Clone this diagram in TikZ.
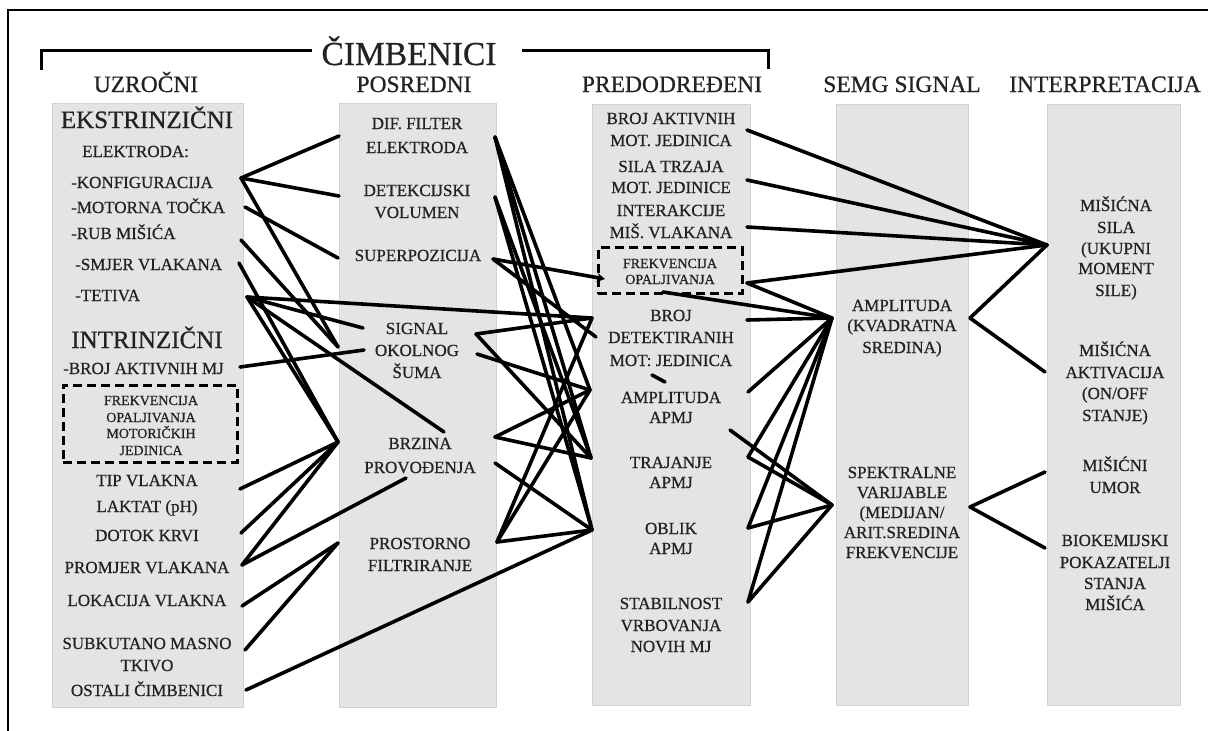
\documentclass[tikz,border=0pt]{standalone}
\usepackage{fontspec}
\setmainfont{Liberation Serif}
\newfontfamily\heavyserif{Liberation Serif}[FakeBold=0.7]
\usetikzlibrary{arrows.meta}
\definecolor{boxgray}{RGB}{226,229,226}
\definecolor{boxedge}{RGB}{208,211,208}
\definecolor{txt}{RGB}{34,34,34}
\newcommand\myftitle{\heavyserif\fontsize{33.5}{35}\selectfont}
\newcommand\myfhead{\heavyserif\fontsize{23.5}{26}\selectfont}
\newcommand\myfbig{\heavyserif\fontsize{25}{28}\selectfont}
\newcommand\myftxt{\heavyserif\fontsize{17}{20}\selectfont}
\newcommand\myfsmall{\heavyserif\fontsize{14}{16}\selectfont}
\begin{document}
\begin{tikzpicture}[x=1pt,y=-1pt,
  colbox/.style={fill=boxgray,draw=boxedge,line width=0.8pt,inner sep=0pt},
  head/.style={font=\myfhead,text=txt,anchor=base,inner sep=0pt},
  big/.style={font=\myfbig,text=txt,anchor=base,inner sep=0pt},
  tx/.style={font=\myftxt,text=txt,anchor=base,inner sep=0pt},
  txw/.style={font=\myftxt,text=txt,anchor=base west,inner sep=0pt},
  sm/.style={font=\myfsmall,text=txt,anchor=base,inner sep=0pt},
  dbox/.style={draw=black,line width=3pt,dash pattern=on 9pt off 5pt,inner sep=0pt},
  conn/.style={draw=black,line width=3.6pt,line cap=round},
  frame/.style={draw=black,line width=2pt},
  brk/.style={draw=black,line width=3pt}]
\useasboundingbox (0,0) rectangle (1208,731);
\fill[white] (0,0) rectangle (1208,731);
% frame
\draw[frame] (8,731) -- (8,10) -- (1208,10);
% title bracket
\node[font=\myftitle,text=txt,anchor=base,inner sep=0pt] (title) at (409,65) {ČIMBENICI};
\draw[brk] (41,70) -- (41,50) -- (312,50);
\draw[brk] (522,50) -- (768,50) -- (768,69);
% headers
\node[head] (h1) at (146,92) {UZROČNI};
\node[head] (h2) at (414,92) {POSREDNI};
\node[head] (h3) at (672,92) {PREDODREĐENI};
\node[head] (h4) at (902,92) {SEMG SIGNAL};
\node[head] (h5) at (1105,92) {INTERPRETACIJA};
% column boxes
\node[colbox,minimum width=191pt,minimum height=604pt] (b1) at (147.5,405) {};
\node[colbox,minimum width=157pt,minimum height=604pt] (b2) at (417.5,405) {};
\node[colbox,minimum width=158pt,minimum height=601pt] (b3) at (671,404.5) {};
\node[colbox,minimum width=132pt,minimum height=601pt] (b4) at (902,404.5) {};
\node[colbox,minimum width=133pt,minimum height=601pt] (b5) at (1113.5,404.5) {};
% dashed boxes
\node[dbox,fill=boxgray,minimum width=174pt,minimum height=77pt] (fb1) at (150,423.5) {};
\node[dbox,fill=boxgray,minimum width=144pt,minimum height=46pt] (fb3) at (670,270.5) {};
% column 1 texts
\node[big] (u1) at (147,128) {EKSTRINZIČNI};
\node[txw] (u2) at (82,157) {ELEKTRODA:};
\node[txw] (u3) at (71,188) {-KONFIGURACIJA};
\node[txw] (u4) at (71,213) {-MOTORNA TOČKA};
\node[txw] (u5) at (71,239) {-RUB MIŠIĆA};
\node[txw] (u6) at (75,270) {-SMJER VLAKANA};
\node[txw] (u7) at (75,301) {-TETIVA};
\node[big] (u8) at (147,348) {INTRINZIČNI};
\node[txw] (u9) at (63,374) {-BROJ AKTIVNIH MJ};
\node[sm] (u10) at (151,405) {FREKVENCIJA};
\node[sm] (u11) at (151,422) {OPALJIVANJA};
\node[sm] (u12) at (151,438) {MOTORIČKIH};
\node[sm] (u13) at (151,455) {JEDINICA};
\node[tx] (u14) at (147,486) {TIP VLAKNA};
\node[tx] (u15) at (147,512) {LAKTAT (pH)};
\node[tx] (u16) at (147,541) {DOTOK KRVI};
\node[tx] (u17) at (147,573) {PROMJER VLAKANA};
\node[tx] (u18) at (147,606) {LOKACIJA VLAKNA};
\node[tx] (u19) at (147,649) {SUBKUTANO MASNO};
\node[tx] (u20) at (147,671) {TKIVO};
\node[tx] (u21) at (147,696) {OSTALI ČIMBENICI};
% column 2 texts
\node[tx] (p1) at (417,129) {DIF. FILTER};
\node[tx] (p2) at (417,153) {ELEKTRODA};
\node[tx] (p3) at (417,196) {DETEKCIJSKI};
\node[tx] (p4) at (417,218) {VOLUMEN};
\node[tx] (p5) at (418,261) {SUPERPOZICIJA};
\node[tx] (p6) at (417,334) {SIGNAL};
\node[tx] (p7) at (417,356) {OKOLNOG};
\node[tx] (p8) at (417,378) {ŠUMA};
\node[tx] (p9) at (420,449) {BRZINA};
\node[tx] (p10) at (420,473) {PROVOĐENJA};
\node[tx] (p11) at (420,549) {PROSTORNO};
\node[tx] (p12) at (420,571) {FILTRIRANJE};
% column 3 texts
\node[tx] (q1) at (671,124) {BROJ AKTIVNIH};
\node[tx] (q2) at (671,146) {MOT. JEDINICA};
\node[tx] (q3) at (671,172) {SILA TRZAJA};
\node[tx] (q4) at (671,193) {MOT. JEDINICE};
\node[tx] (q5) at (671,216) {INTERAKCIJE};
\node[tx] (q6) at (671,238) {MIŠ. VLAKANA};
\node[sm] (q7) at (670,268) {FREKVENCIJA};
\node[sm] (q8) at (670,284) {OPALJIVANJA};
\node[tx] (q9) at (671,321) {BROJ};
\node[tx] (q10) at (671,343) {DETEKTIRANIH};
\node[tx] (q11) at (671,366) {MOT: JEDINICA};
\node[tx] (q12) at (671,403) {AMPLITUDA};
\node[tx] (q13) at (671,423) {APMJ};
\node[tx] (q14) at (671,468) {TRAJANJE};
\node[tx] (q15) at (671,488) {APMJ};
\node[tx] (q16) at (671,534) {OBLIK};
\node[tx] (q17) at (671,554) {APMJ};
\node[tx] (q18) at (671,609) {STABILNOST};
\node[tx] (q19) at (671,631) {VRBOVANJA};
\node[tx] (q20) at (671,652) {NOVIH MJ};
% column 4 texts
\node[tx] (s1) at (902,311) {AMPLITUDA};
\node[tx] (s2) at (902,331) {(KVADRATNA};
\node[tx] (s3) at (902,353) {SREDINA)};
\node[tx] (s4) at (902,478) {SPEKTRALNE};
\node[tx] (s5) at (902,498) {VARIJABLE};
\node[tx] (s6) at (902,518) {(MEDIJAN/};
\node[tx] (s7) at (902,538) {ARIT.SREDINA};
\node[tx] (s8) at (902,558) {FREKVENCIJE};
% column 5 texts
\node[tx] (i1) at (1116,211) {MIŠIĆNA};
\node[tx] (i2) at (1116,233) {SILA};
\node[tx] (i3) at (1116,254) {(UKUPNI};
\node[tx] (i4) at (1116,274) {MOMENT};
\node[tx] (i5) at (1116,296) {SILE)};
\node[tx] (i6) at (1115,356) {MIŠIĆNA};
\node[tx] (i7) at (1115,378) {AKTIVACIJA};
\node[tx] (i8) at (1115,399) {(ON/OFF};
\node[tx] (i9) at (1115,421) {STANJE)};
\node[tx] (i10) at (1115,471) {MIŠIĆNI};
\node[tx] (i11) at (1115,493) {UMOR};
\node[tx] (i12) at (1115,546) {BIOKEMIJSKI};
\node[tx] (i13) at (1115,568) {POKAZATELJI};
\node[tx] (i14) at (1115,589) {STANJA};
\node[tx] (i15) at (1115,610) {MIŠIĆA};
% connection points
\coordinate (k) at (241,178);
\coordinate (mt) at (245,207);
\coordinate (rub) at (241,240);
\coordinate (smj) at (239,263);
\coordinate (tet) at (247,297);
\coordinate (bmj) at (240,367);
\coordinate (tip) at (240,489);
\coordinate (dot) at (241,533);
\coordinate (prm) at (242,565);
\coordinate (lok) at (242,606);
\coordinate (sub) at (245,650);
\coordinate (ost) at (246,690);
\coordinate (difL) at (339,136);
\coordinate (detL) at (339,196);
\coordinate (supL) at (338,258);
\coordinate (sigL) at (338,347);
\coordinate (sigT) at (363,328);
\coordinate (okoL) at (364,350);
\coordinate (brzT) at (444,432);
\coordinate (brzL) at (338,442);
\coordinate (provB) at (406,478);
\coordinate (prosL) at (338,543);
\coordinate (difR) at (495,137);
\coordinate (detR) at (495,197);
\coordinate (supR) at (493,259);
\coordinate (sigR) at (476,334);
\coordinate (okoR) at (477,354);
\coordinate (brzR) at (495,437);
\coordinate (provR) at (495,463);
\coordinate (prosR) at (497,542);
\coordinate (frkA) at (605,279);
\coordinate (brojL) at (592,318);
\coordinate (detkL) at (596,337);
\coordinate (r1) at (590,390);
\coordinate (r2) at (591,458);
\coordinate (r3) at (592,530);
\coordinate (bam) at (747,130);
\coordinate (stz) at (747,180);
\coordinate (int) at (747,227);
\coordinate (fr3) at (747,283);
\coordinate (fr3b) at (663,292);
\coordinate (bdet) at (747,320);
\coordinate (aapR) at (748,392);
\coordinate (aapB) at (730,430);
\coordinate (traR) at (748,457);
\coordinate (oblR) at (748,528);
\coordinate (stbR) at (748,602);
\coordinate (ampL) at (832,318);
\coordinate (ampR) at (970,318);
\coordinate (spkL) at (832,505);
\coordinate (spkR) at (970,507);
\coordinate (msL) at (1047,245);
\coordinate (maL) at (1045,372);
\coordinate (muL) at (1045,472);
\coordinate (bkL) at (1045,548);
\coordinate (mk1) at (652,375);
\coordinate (mk2) at (665,382);
% left gap connectors
\draw[conn] (k) -- (difL);
\draw[conn] (k) -- (detL);
\draw[conn] (k) -- (sigL);
\draw[conn] (mt) -- (supL);
\draw[conn] (rub) -- (sigL);
\draw[conn] (smj) -- (brzL);
\draw[conn] (tet) -- (brojL);
\draw[conn] (tet) -- (sigT);
\draw[conn] (tet) -- (brzT);
\draw[conn] (tet) -- (brzL);
\draw[conn] (bmj) -- (okoL);
\draw[conn] (tip) -- (brzL);
\draw[conn] (dot) -- (brzL);
\draw[conn] (prm) -- (brzL);
\draw[conn] (prm) -- (provB);
\draw[conn] (lok) -- (prosL);
\draw[conn] (sub) -- (prosL);
\draw[conn] (ost) -- (r3);
% middle gap connectors
\draw[conn] (difR) -- (r1);
\draw[conn] (difR) -- (r2);
\draw[conn] (difR) -- (r3);
\draw[conn] (detR) -- (r2);
\draw[conn] (detR) -- (r3);
\draw[conn,-{Stealth[length=8pt,width=9pt]}] (supR) -- (frkA);
\draw[conn] (supR) -- (detkL);
\draw[conn] (sigR) -- (brojL);
\draw[conn] (sigR) -- (r2);
\draw[conn] (okoR) -- (r1);
\draw[conn] (brzR) -- (r1);
\draw[conn] (brzR) -- (r2);
\draw[conn] (provR) -- (r3);
\draw[conn] (prosR) -- (r3);
\draw[conn] (prosR) -- (r1);
\draw[conn] (prosR) -- (brojL);
% right side connectors
\draw[conn] (bam) -- (msL);
\draw[conn] (stz) -- (msL);
\draw[conn] (int) -- (msL);
\draw[conn] (fr3) -- (msL);
\draw[conn] (fr3) -- (ampL);
\draw[conn] (fr3b) -- (ampL);
\draw[conn] (bdet) -- (ampL);
\draw[conn] (aapR) -- (ampL);
\draw[conn] (traR) -- (ampL);
\draw[conn] (oblR) -- (ampL);
\draw[conn] (stbR) -- (ampL);
\draw[conn] (aapB) -- (spkL);
\draw[conn] (traR) -- (spkL);
\draw[conn] (oblR) -- (spkL);
\draw[conn] (stbR) -- (spkL);
\draw[conn] (ampR) -- (msL);
\draw[conn] (ampR) -- (maL);
\draw[conn] (spkR) -- (muL);
\draw[conn] (spkR) -- (bkL);
\draw[conn] (mk1) -- (mk2);
\end{tikzpicture}
\end{document}
